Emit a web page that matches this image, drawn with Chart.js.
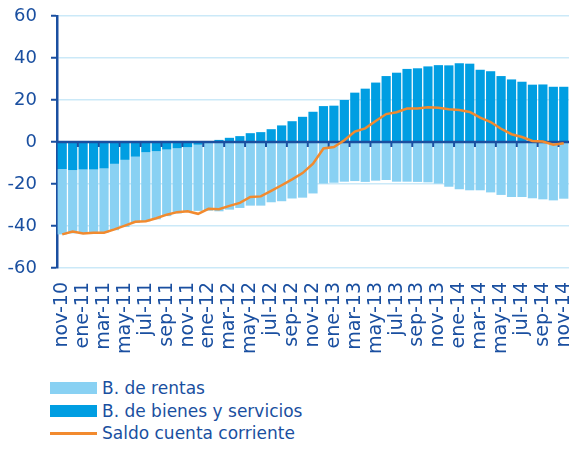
<!DOCTYPE html>
<html>
<head>
<meta charset="utf-8">
<script src="https://cdn.jsdelivr.net/npm/chart.js@4/dist/chart.umd.min.js"></script>
<style>
  html, body { margin: 0; padding: 0; background: #fff; }
  #wrap { position: relative; width: 572px; height: 450px; font-family: "DejaVu Sans", sans-serif; }
  #chartBox { position: absolute; left: 0; top: 0; width: 572px; height: 356px; }
  #legend { position: absolute; left: 50px; top: 377px; }
  .item { display: flex; align-items: center; height: 22.5px; color: #1A4FA0; font-size: 17px; }
  .swatch { width: 47px; height: 12px; margin-right: 5px; }
  .swatch.line { height: 2.5px; }
</style>
</head>
<body>
<div id="wrap">
  <div id="chartBox"><canvas id="mainChart"></canvas></div>
  <div id="legend"></div>
</div>
<script>
const months = ['nov-10','dic-10',
  'ene-11','feb-11','mar-11','abr-11','may-11','jun-11','jul-11','ago-11','sep-11','oct-11','nov-11','dic-11',
  'ene-12','feb-12','mar-12','abr-12','may-12','jun-12','jul-12','ago-12','sep-12','oct-12','nov-12','dic-12',
  'ene-13','feb-13','mar-13','abr-13','may-13','jun-13','jul-13','ago-13','sep-13','oct-13','nov-13','dic-13',
  'ene-14','feb-14','mar-14','abr-14','may-14','jun-14','jul-14','ago-14','sep-14','oct-14','nov-14'];

// B. de bienes y servicios
const bienes = [-12.9,-13.4,-13.1,-13.1,-12.6,-10.4,-8.5,-7.0,-4.9,-4.4,
  -3.6,-3.0,-2.5,-1.3,-0.3,1.0,2.0,2.8,4.2,4.7,
  6.1,7.9,9.9,12.0,14.4,17.1,17.3,20.0,23.5,25.4,
  28.3,31.4,33.0,34.8,35.1,36.0,36.6,36.5,37.5,37.3,
  34.4,33.7,31.4,29.8,28.7,27.3,27.4,26.3,26.3];

// B. de rentas
const rentas = [-31.1,-30.1,-30.4,-30.2,-30.6,-31.6,-32.0,-31.5,-32.9,-32.4,
  -31.7,-31.0,-30.5,-31.5,-32.4,-33.0,-32.2,-31.4,-30.3,-30.3,
  -28.7,-28.2,-26.9,-26.5,-24.5,-19.8,-19.4,-18.9,-18.6,-19.0,
  -18.4,-18.1,-18.9,-18.9,-19.0,-19.2,-19.8,-21.3,-22.5,-23.0,
  -23.0,-24.0,-25.2,-26.2,-26.2,-26.8,-27.3,-27.8,-27.0];

// Saldo cuenta corriente
const saldo = [-44.0,-42.6,-43.6,-43.2,-43.2,-41.6,-39.8,-38.0,-37.7,-36.3,
  -34.6,-33.4,-33.0,-34.2,-31.8,-32.0,-30.4,-29.0,-26.2,-25.9,
  -23.3,-20.6,-17.8,-14.8,-10.3,-3.1,-2.4,0.8,5.0,6.5,
  10.0,13.3,14.2,15.9,16.0,16.6,16.3,15.6,15.2,14.3,
  11.6,9.5,6.3,3.7,2.4,0.5,0.2,-1.3,-0.6];

const NAVY = '#1A4FA0';
const LIGHT = '#89D1F3';
const MID = '#009EE2';
const ORANGE = '#F28A2E';

// zero line with tick marks, drawn over the bars but under the line
const zeroAxis = {
    id: 'zeroAxis',
    beforeDatasetDraw(chart, args) {
        if (args.index !== 0) return;
        const {ctx, chartArea} = chart;
        const x = chart.scales.x;
        const y0 = chart.scales.y.getPixelForValue(0);
        ctx.save();
        ctx.strokeStyle = NAVY;
        ctx.lineWidth = 2.5;
        ctx.beginPath();
        ctx.moveTo(chartArea.left, y0);
        ctx.lineTo(chartArea.right, y0);
        ctx.stroke();
        ctx.lineWidth = 2;
        for (let k = 2; k < months.length; k += 2) {
            const px = (x.getPixelForValue(k - 1) + x.getPixelForValue(k)) / 2;
            ctx.beginPath();
            ctx.moveTo(px, y0);
            ctx.lineTo(px, y0 + 5);
            ctx.stroke();
        }
        ctx.restore();
    }
};

const ctx = document.getElementById('mainChart').getContext('2d');
new Chart(ctx, {
    type: 'bar',
    data: {
        labels: months,
        datasets: [
            {
                type: 'line',
                label: 'Saldo cuenta corriente',
                data: saldo,
                borderColor: ORANGE,
                backgroundColor: ORANGE,
                borderWidth: 2.5,
                pointRadius: 0,
                tension: 0,
                stack: 'linea'
            },
            {
                label: 'B. de bienes y servicios',
                data: bienes,
                backgroundColor: MID,
                stack: 'cc',
                barPercentage: 0.88,
                categoryPercentage: 1
            },
            {
                label: 'B. de rentas',
                data: rentas,
                backgroundColor: LIGHT,
                stack: 'cc',
                barPercentage: 0.88,
                categoryPercentage: 1
            }
        ]
    },
    options: {
        responsive: true,
        maintainAspectRatio: false,
        animation: false,
        layout: { padding: { left: 7, top: 16, right: 2, bottom: 2 } },
        plugins: {
            legend: { display: false },
            tooltip: { enabled: false }
        },
        scales: {
            x: {
                stacked: true,
                grid: { display: false, drawTicks: false },
                border: { display: false },
                ticks: {
                    autoSkip: false,
                    minRotation: 90,
                    maxRotation: 90,
                    padding: 14,
                    color: NAVY,
                    font: { family: 'DejaVu Sans', size: 19 },
                    callback: (v, i) => i % 2 === 0 ? months[i] : ''
                },
                afterFit: s => {
                    s.height = 86;
                    s.paddingLeft = 0;
                    s.paddingRight = 3;
                }
            },
            y: {
                stacked: true,
                min: -60,
                max: 60,
                ticks: {
                    stepSize: 20,
                    padding: 14,
                    color: NAVY,
                    font: { family: 'DejaVu Sans', size: 18 }
                },
                grid: {
                    color: c => c.tick && c.tick.value === 0 ? 'rgba(0,0,0,0)' : '#CBE9F8',
                    lineWidth: 1.5,
                    tickColor: NAVY,
                    tickLength: 6,
                    tickWidth: 2
                },
                border: { color: NAVY, width: 2.5 },
                afterFit: s => {
                    s.width = 50;
                    s.paddingTop = 0;
                    s.paddingBottom = 0;
                }
            }
        }
    },
    plugins: [zeroAxis]
});

// legend: one entry per line, as in the original
const legendItems = [
    { text: 'B. de rentas', color: LIGHT, line: false },
    { text: 'B. de bienes y servicios', color: MID, line: false },
    { text: 'Saldo cuenta corriente', color: ORANGE, line: true }
];
const legendEl = document.getElementById('legend');
legendItems.forEach(it => {
    const row = document.createElement('div');
    row.className = 'item';
    const sw = document.createElement('span');
    sw.className = 'swatch' + (it.line ? ' line' : '');
    sw.style.background = it.color;
    const tx = document.createElement('span');
    tx.textContent = it.text;
    row.appendChild(sw);
    row.appendChild(tx);
    legendEl.appendChild(row);
});
</script>
</body>
</html>
